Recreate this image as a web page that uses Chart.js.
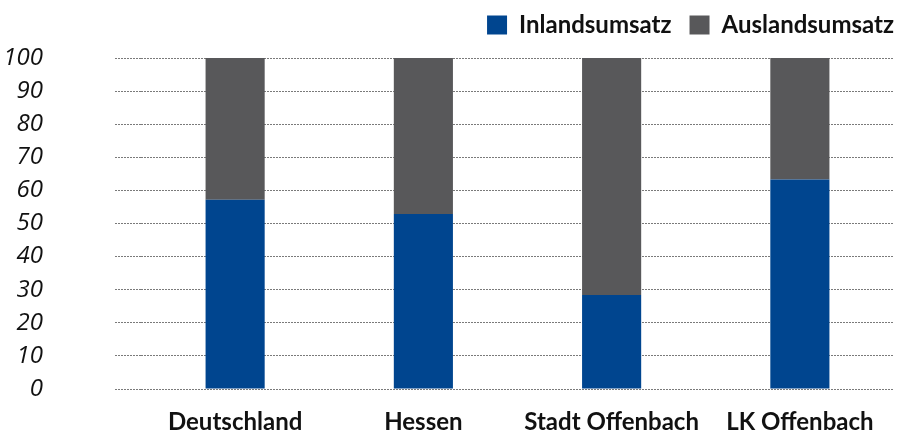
<!DOCTYPE html>
<html>
<head>
<meta charset="utf-8">
<script src="https://cdn.jsdelivr.net/npm/chart.js@4"></script>
<style>
  html, body { margin: 0; padding: 0; background: #fff; }
  #wrap { width: 900px; height: 434px; }
</style>
</head>
<body>
<div id="wrap"><canvas id="grafico" width="900" height="434"></canvas></div>
<script>
// Regionen
const regionen = ['Deutschland', 'Hessen', 'Stadt Offenbach', 'LK Offenbach'];
// Anteile am Umsatz in %
const inlandsumsatz = [57.2, 52.9, 28.4, 63.3];
const auslandsumsatz = [42.8, 47.1, 71.6, 36.7];
const yTicks = [0, 10, 20, 30, 40, 50, 60, 70, 80, 90, 100];

const BLAU = '#00458f';
const GRAU = '#58585a';

const ctx = document.getElementById('grafico').getContext('2d');

new Chart(ctx, {
    type: 'bar',
    data: {
        labels: regionen,
        datasets: [
            { label: 'Inlandsumsatz', data: inlandsumsatz, backgroundColor: BLAU },
            { label: 'Auslandsumsatz', data: auslandsumsatz, backgroundColor: GRAU }
        ]
    },
    options: {
        responsive: false,
        animation: false,
        layout: { padding: { top: -5, right: -12, left: 0, bottom: 0 } },
        plugins: {
            tooltip: { enabled: false },
            // leerer Titel nur als Abstand zwischen Legende und Diagramm
            title: {
                display: true,
                text: '',
                weight: 500,
                font: { size: 1, lineHeight: 1 },
                padding: { top: 0, bottom: 10 }
            },
            legend: {
                position: 'top',
                align: 'end',
                labels: {
                    boxWidth: 20,
                    boxHeight: 19,
                    padding: 18,
                    color: '#111',
                    font: { family: 'Lato', weight: 'bold', size: 24 }
                }
            }
        },
        datasets: {
            bar: { categoryPercentage: 1, barPercentage: 0.314 }
        },
        scales: {
            x: {
                stacked: true,
                grid: { display: false },
                border: { display: false },
                afterFit: scale => {
                    scale.height = 45;
                    scale.paddingRight = 6;
                },
                ticks: {
                    color: '#111',
                    padding: 11,
                    font: { family: 'Lato', weight: 'bold', size: 24 }
                }
            },
            y: {
                stacked: true,
                min: 0,
                max: 100,
                afterFit: scale => {
                    // Platz links fest, Rand oben/unten selbst setzen
                    scale.width = 141;
                    scale.paddingTop = 12;
                    scale.paddingBottom = 12;
                },
                afterBuildTicks: scale => { scale.ticks = yTicks.map(v => ({ value: v })); },
                border: { display: false, dash: [2, 1] },
                grid: {
                    color: '#7a7a7a',
                    lineWidth: 1,
                    tickBorderDash: [2, 1],
                    drawTicks: true,
                    tickLength: 26
                },
                ticks: {
                    autoSkip: false,
                    padding: 72,
                    color: '#111',
                    font: { family: 'Open Sans', style: 'italic', size: 24 }
                }
            }
        }
    }
});
</script>
</body>
</html>
